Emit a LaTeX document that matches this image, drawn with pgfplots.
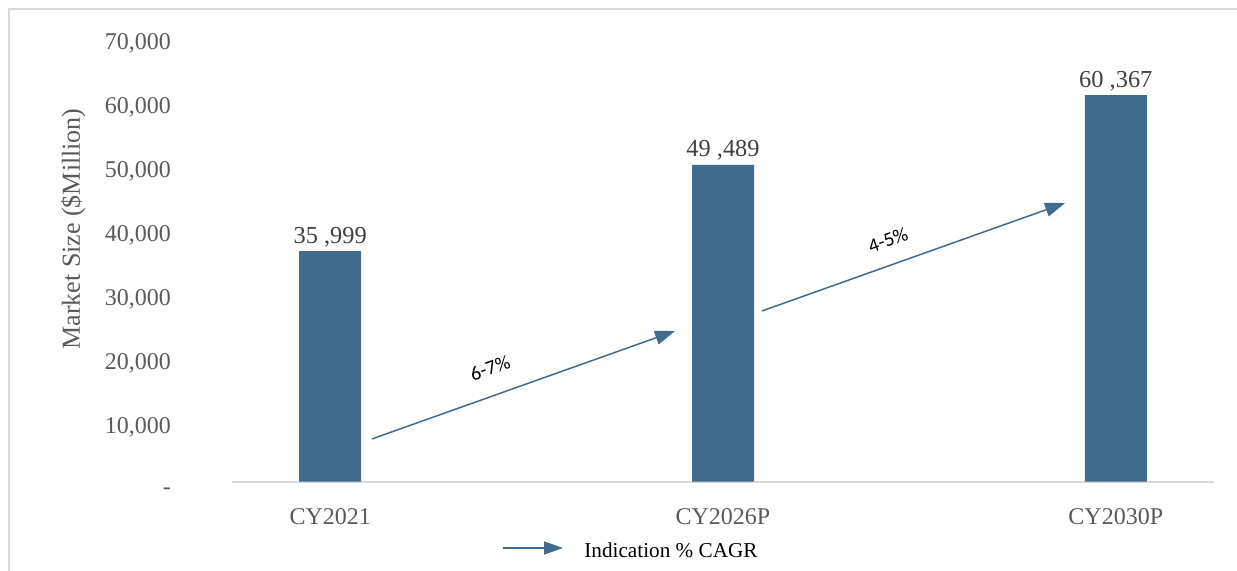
\documentclass[border=0pt]{standalone}
\usepackage{fontspec}
\setmainfont{Liberation Serif}
\newfontfamily\calibri{Carlito}
\usepackage{pgfplots}
\pgfplotsset{compat=1.18}
\usetikzlibrary{arrows.meta}

\definecolor{barblue}{RGB}{65,107,141}
\definecolor{ticktext}{HTML}{595959}
\definecolor{labeltext}{HTML}{404040}
\definecolor{rulegray}{HTML}{D9D9D9}

\begin{document}
\begin{tikzpicture}[font=\fontsize{12bp}{14bp}\selectfont]
\begin{axis}[
    scale only axis,
    width=491bp,
    height=224bp,
    xmin=-0.25, xmax=2.25,
    ymin=0, ymax=70000,
    ybar,
    bar width=31bp,
    axis x line*=bottom,
    axis y line*=left,
    x axis line style={draw=rulegray, line width=1bp},
    y axis line style={draw=none},
    major tick length=0pt,
    scaled y ticks=false,
    xtick={0,1,2},
    xticklabels={CY2021,CY2026P,CY2030P},
    ytick={0,10000,20000,30000,40000,50000,60000,70000},
    yticklabels={-,{10,000},{20,000},{30,000},{40,000},{50,000},{60,000},{70,000}},
    tick label style={text=ticktext, font=\fontsize{12bp}{14bp}\selectfont},
    xticklabel style={yshift=-10bp},
    yticklabel style={xshift=-27bp, yshift=-5bp},
    nodes near coords,
    point meta=explicit symbolic,
    every node near coord/.append style={text=labeltext, yshift=-1.5bp,
        font=\fontsize{12.2bp}{14bp}\selectfont},
    clip=false,
]
\addplot[fill=barblue, draw=none] coordinates {
    (0,35999) [35 ,999]
    (1,49489) [49 ,489]
    (2,60367) [60 ,367]
};

% CAGR arrows
\draw[barblue, line width=0.75bp, -{Triangle[length=10bp,width=7bp]}]
    (axis cs:0.106,6641) -- (axis cs:0.878,23516);
\draw[barblue, line width=0.75bp, -{Triangle[length=10bp,width=7bp]}]
    (axis cs:1.099,26641) -- (axis cs:1.871,43516);
\node[rotate=19.6, inner sep=0pt, font=\calibri\fontsize{10bp}{12bp}\selectfont]
    at (axis cs:0.407,17734) {6-7\%};
\node[rotate=19.6, inner sep=0pt, font=\calibri\fontsize{10bp}{12bp}\selectfont]
    at (axis cs:1.420,37734) {4-5\%};
\end{axis}

% y label
\node[rotate=90, anchor=base, text=ticktext, font=\fontsize{13bp}{15bp}\selectfont]
    at (-76bp,126.25bp) {Market Size (\$Million)};

% legend
\draw[barblue, line width=0.75bp, -{Triangle[length=9.5bp,width=6.5bp]}]
    (135.5bp,-33.25bp) -- (165.5bp,-33.25bp);
\node[anchor=base west, inner sep=0pt, font=\fontsize{10.6bp}{12bp}\selectfont]
    at (176bp,-37.75bp) {Indication \% CAGR};

% outer frame (top and left edges visible)
\draw[rulegray, line width=1bp] (-111.5bp,-44.75bp) -- (-111.5bp,236.25bp) -- (502.5bp,236.25bp);

\pgfresetboundingbox
\useasboundingbox (-116bp,-44.75bp) rectangle (502.5bp,240.75bp);
\end{tikzpicture}
\end{document}
